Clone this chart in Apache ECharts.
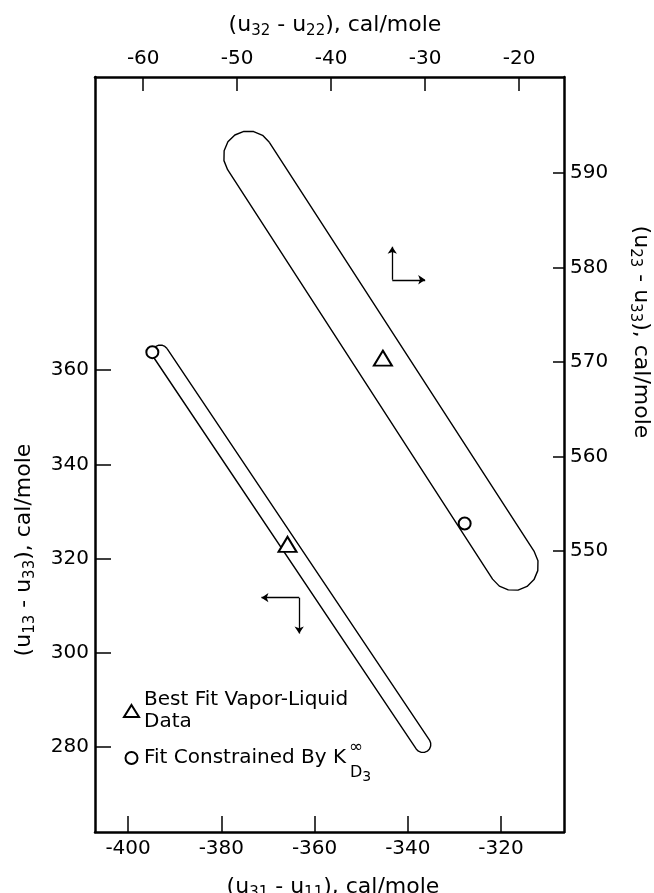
<!DOCTYPE html>
<html><head><meta charset="utf-8">
<script src="https://cdn.jsdelivr.net/npm/echarts@6/dist/echarts.min.js"></script>
<style>html,body{margin:0;padding:0;background:#fff}#c{width:654px;height:893px}</style>
</head><body><div id="c"></div>
<script>
// ---- tick labels ----
const bottomTicks = [-400, -380, -360, -340, -320];   // (u31 - u11)
const topTicks = [-60, -50, -40, -30, -20];           // (u32 - u22)
const leftTicks = [280, 300, 320, 340, 360];          // (u13 - u33)
const rightTicks = [550, 560, 570, 580, 590];         // (u23 - u33)

// ---- point estimates ----
const bestFitLower = [[-365.8, 323.0]];        // bottom / left axes
const bestFitUpper = [[-34.5, 570.4]];         // top / right axes
const constrainedLower = [[-394.8, 363.8]];    // bottom / left axes
const constrainedUpper = [[-25.8, 552.9]];     // top / right axes

// ---- confidence region outlines ----
const regionUpper = [
  [-46.58, 593.25],
  [-18.39, 549.92], [-18.00, 548.96], [-18.02, 547.92], [-18.42, 546.97], [-19.16, 546.25],
  [-20.12, 545.86], [-21.16, 545.88], [-22.11, 546.28], [-22.83, 547.02],
  [-51.02, 590.35], [-51.41, 591.31], [-51.39, 592.35], [-50.99, 593.30], [-50.25, 594.02],
  [-49.29, 594.41], [-48.25, 594.39], [-47.30, 593.99], [-46.58, 593.25]
];
const regionLower = [
  [-391.64, 364.56],
  [-335.35, 281.48], [-335.10, 280.86], [-335.10, 280.20], [-335.35, 279.59], [-335.82, 279.12],
  [-336.44, 278.87], [-337.11, 278.87], [-337.73, 279.12], [-338.21, 279.59],
  [-394.50, 362.67], [-394.75, 363.28], [-394.75, 363.94], [-394.50, 364.55], [-394.03, 365.02],
  [-393.41, 365.28], [-392.74, 365.28], [-392.12, 365.02], [-391.64, 364.56]
];

// ---- axis-direction arrows ----
const arrowLower = [[[-363.3, 311.7], [-371.4, 311.7]], [[-363.3, 311.7], [-363.3, 304.1]]];
const arrowUpper = [[[-33.5, 578.7], [-33.5, 582.2]], [[-33.5, 578.7], [-30.0, 578.7]]];

const FONT = 'DejaVu Sans';
const BLK = '#000';

function axisCommon(ticks, margin, tickLen) {
  return {
    type: 'value',
    axisLine: { show: true, onZero: false, lineStyle: { color: BLK, width: 2.5 } },
    axisTick: { show: true, inside: true, length: tickLen, customValues: ticks, lineStyle: { color: BLK, width: 1.5 } },
    axisLabel: { show: true, customValues: ticks, color: BLK, fontSize: 20, fontFamily: FONT, margin: margin },
    splitLine: { show: false }
  };
}

const chart = echarts.init(document.getElementById('c'), null, { renderer: 'canvas' });

const titleRich = {
  n: { fontSize: 22, fontFamily: FONT, fill: BLK, lineHeight: 25 },
  s: { fontSize: 15, fontFamily: FONT, fill: BLK, lineHeight: 15, padding: [12, 0, 0, 0] }
};
function titleText(a, b) {
  return '{n|(u}{s|' + a + '}{n| - u}{s|' + b + '}{n|), cal/mole}';
}

const symStyle = { color: '#fff', borderColor: BLK, borderWidth: 2, opacity: 1 };

const option = {
  animation: false,
  backgroundColor: '#fff',
  grid: { left: 95, right: 90, top: 77, bottom: 61, containLabel: false },
  xAxis: [
    Object.assign(axisCommon(bottomTicks, 7, 16), { position: 'bottom', min: -407.1, max: -306.5 }),
    Object.assign(axisCommon(topTicks, 8, 14), { position: 'top', min: -65.13, max: -15.23 })
  ],
  yAxis: [
    Object.assign(axisCommon(leftTicks, 6, 16), { position: 'left', min: 261.96, max: 422.2 }),
    Object.assign(axisCommon(rightTicks, 6, 11), { position: 'right', min: 520.26, max: 600.16 })
  ],
  legend: {
    orient: 'vertical', left: 118, top: 673,
    itemWidth: 15, itemHeight: 12, itemGap: 3,
    selectedMode: false,
    data: [
      { name: 'Best Fit Vapor-Liquid Data', textStyle: { padding: [22, 0, 0, 0] } },
      { name: 'Fit Constrained By K' }
    ],
    formatter: function (name) {
      return name === 'Best Fit Vapor-Liquid Data' ? 'Best Fit Vapor-Liquid\nData' : name;
    },
    textStyle: { color: BLK, fontSize: 20, fontFamily: FONT, lineHeight: 22 }
  },
  graphic: [
    { type: 'text', x: 335, y: 25, style: { text: titleText('32', '22'), rich: titleRich, align: 'center', verticalAlign: 'middle' } },
    { type: 'text', x: 333, y: 887, style: { text: titleText('31', '11'), rich: titleRich, align: 'center', verticalAlign: 'middle' } },
    { type: 'text', x: 24, y: 550, rotation: Math.PI / 2, style: { text: titleText('13', '33'), rich: titleRich, align: 'center', verticalAlign: 'middle' } },
    { type: 'text', x: 641, y: 332, rotation: -Math.PI / 2, style: { text: titleText('23', '33'), rich: titleRich, align: 'center', verticalAlign: 'middle' } },
    { type: 'text', x: 356, y: 748, style: { text: '∞', font: '17px "DejaVu Sans"', fill: BLK, align: 'center', verticalAlign: 'middle' } },
    { type: 'text', x: 350, y: 773, style: { text: '{n|D}{s|3}', rich: { n: { fontSize: 16, fontFamily: FONT, fill: BLK, lineHeight: 18 }, s: { fontSize: 14, fontFamily: FONT, fill: BLK, lineHeight: 14, padding: [8, 0, 0, 0] } }, align: 'left', verticalAlign: 'middle' } }
  ],
  series: [
    { type: 'line', name: 'regionLower', xAxisIndex: 0, yAxisIndex: 0, data: regionLower, showSymbol: false, symbol: 'none', silent: true, lineStyle: { color: BLK, width: 1.4 } },
    { type: 'line', name: 'regionUpper', xAxisIndex: 1, yAxisIndex: 1, data: regionUpper, showSymbol: false, symbol: 'none', silent: true, lineStyle: { color: BLK, width: 1.4 } },
    { type: 'lines', coordinateSystem: 'cartesian2d', xAxisIndex: 0, yAxisIndex: 0, silent: true,
      symbol: ['none', 'arrow'], symbolSize: 7, lineStyle: { color: BLK, width: 1.3, opacity: 1 },
      data: arrowLower.map(c => ({ coords: c })) },
    { type: 'lines', coordinateSystem: 'cartesian2d', xAxisIndex: 1, yAxisIndex: 1, silent: true,
      symbol: ['none', 'arrow'], symbolSize: 7, lineStyle: { color: BLK, width: 1.3, opacity: 1 },
      data: arrowUpper.map(c => ({ coords: c })) },
    { type: 'scatter', name: 'Best Fit Vapor-Liquid Data', xAxisIndex: 0, yAxisIndex: 0, data: bestFitLower, symbol: 'triangle', symbolSize: [18, 15], itemStyle: symStyle, z: 5 },
    { type: 'scatter', name: 'Best Fit Vapor-Liquid Data', xAxisIndex: 1, yAxisIndex: 1, data: bestFitUpper, symbol: 'triangle', symbolSize: [18, 15], itemStyle: symStyle, z: 5 },
    { type: 'scatter', name: 'Fit Constrained By K', xAxisIndex: 0, yAxisIndex: 0, data: constrainedLower, symbol: 'circle', symbolSize: 12, itemStyle: symStyle, z: 5 },
    { type: 'scatter', name: 'Fit Constrained By K', xAxisIndex: 1, yAxisIndex: 1, data: constrainedUpper, symbol: 'circle', symbolSize: 12, itemStyle: symStyle, z: 5 }
  ]
};
chart.setOption(option);
</script>
</body></html>
